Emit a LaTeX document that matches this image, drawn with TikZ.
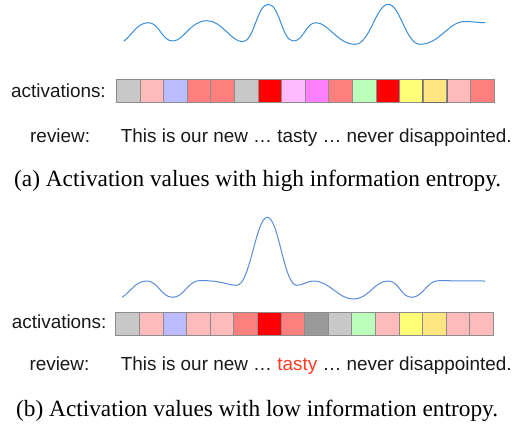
\documentclass[tikz,border=0pt]{standalone}
\usepackage{fontspec}
\setmainfont{Liberation Serif}
\setsansfont{Liberation Sans}
\definecolor{cgray}{HTML}{C8C8C8}
\definecolor{cpink}{HTML}{FFBBBB}
\definecolor{clav}{HTML}{BBBBFF}
\definecolor{csalmon}{HTML}{FF7F7F}
\definecolor{cred}{HTML}{FF0000}
\definecolor{cviolet}{HTML}{FFBBFF}
\definecolor{cmag}{HTML}{FF7FFF}
\definecolor{cgreen}{HTML}{BBFFBB}
\definecolor{cyellow}{HTML}{FFFF77}
\definecolor{cgold}{HTML}{FFE680}
\definecolor{cdgray}{HTML}{999999}
\definecolor{cborder}{HTML}{8C8C8C}
\definecolor{cborderdark}{HTML}{6E6E6E}
\definecolor{curveA}{HTML}{3A8ED8}
\definecolor{curveB}{HTML}{5B8BD8}
\definecolor{tastyred}{HTML}{FF3B24}
\tikzset{
  cell/.style={draw=cborder, line width=0.9pt, minimum width=23.6pt, minimum height=23pt, inner sep=0pt, anchor=north west},
  lbl/.style={font=\sffamily\fontsize{18.9}{20}\selectfont, inner sep=0pt, anchor=base west, text=black!90},
  captext/.style={font=\rmfamily\fontsize{23.3}{25}\selectfont, inner sep=0pt, anchor=base west},
  wave/.style={line width=1pt, line cap=round, line join=round}
}
\begin{document}
\begin{tikzpicture}[x=1pt,y=-1pt]
\useasboundingbox (0,0) rectangle (521,428);
% top panel
\draw[wave, curveA] (124,41)
  .. controls (132,35) and (137.4,22.7) .. (148.3,22.7)
  .. controls (159.3,22.7) and (161.7,41) .. (172.7,41)
  .. controls (184,41) and (190,20.7) .. (207,20.7)
  .. controls (222,20.7) and (231,41.7) .. (242.7,41.7)
  .. controls (254.2,41.7) and (256.8,4.3) .. (268.3,4.3)
  .. controls (279.6,4.3) and (282,41) .. (293.3,41)
  .. controls (303.5,41) and (305.8,22.7) .. (316,22.7)
  .. controls (328,22.7) and (338,44.3) .. (355,44.3)
  .. controls (370,44.3) and (376,4.3) .. (388.3,4.3)
  .. controls (400,4.3) and (406,44.3) .. (420,44.3)
  .. controls (440,44.3) and (448,21.5) .. (465,21.5)
  .. controls (472,21.5) and (478,22.7) .. (485,22.7);
\foreach [count=\i] \c in {cgray,cpink,clav,csalmon,csalmon,cgray,cred,cviolet,cmag,csalmon,cgreen,cred,cyellow,cgold,cpink,csalmon}
  \node[cell, fill=\c] (ta\i) at ({116+(\i-1)*23.6},79) {};
\draw[draw=cborderdark, line width=0.9pt] (ta14.north west) rectangle (ta14.south east);
\node[lbl] (actA) at (11,97.7) {activations:};
\node[lbl] (revA) at (30,142.3) {review:};
\node[lbl] (txtA) at (120.7,142.3) {This is our new … tasty … never disappointed.};
\node[captext] (capA) at (14,186.7) {(a) Activation values with high information entropy.};
% bottom panel
\draw[wave, curveB] (122.3,297.3)
  .. controls (131,291) and (136,281) .. (146.7,281)
  .. controls (158.4,281) and (161,297.3) .. (172.7,297.3)
  .. controls (184,297.3) and (188,280.5) .. (200,280.5)
  .. controls (222,280.5) and (228,285.3) .. (236.7,285.3)
  .. controls (250,285.3) and (256,217.3) .. (267.3,217.3)
  .. controls (278.6,217.3) and (284,285.3) .. (296.7,285.3)
  .. controls (303,285.3) and (307,281) .. (313.3,281)
  .. controls (330,281) and (338,299) .. (353.3,299)
  .. controls (369,299) and (374,281) .. (388.3,281)
  .. controls (399,281) and (401,297.3) .. (411.7,297.3)
  .. controls (423,297.3) and (427,280.7) .. (438.3,280.7)
  .. controls (455,280.7) and (470,281) .. (485,281);
\foreach [count=\i] \c in {cgray,cpink,clav,cpink,cpink,csalmon,cred,csalmon,cdgray,cgray,cgreen,cpink,cyellow,cgold,cpink,cpink}
  \node[cell, fill=\c] (tb\i) at ({115.3+(\i-1)*23.6},312) {};
\node[lbl] (actB) at (11.7,328.3) {activations:};
\node[lbl] (revB) at (29.3,370) {review:};
\node[lbl] (txtB) at (120.7,370) {This is our new … \textcolor{tastyred}{tasty} … never disappointed.};
\node[captext] (capB) at (16,416.7) {(b) Activation values with low information entropy.};
\end{tikzpicture}
\end{document}
